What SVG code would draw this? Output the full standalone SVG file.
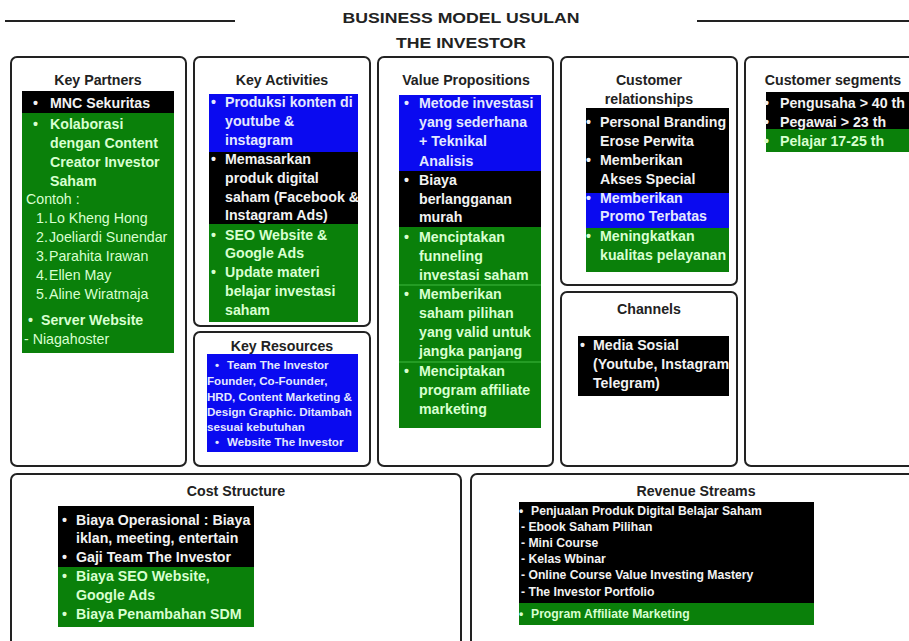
<svg xmlns="http://www.w3.org/2000/svg" width="909" height="641" viewBox="0 0 909 641">
<style>
.frame{fill:#fff;stroke:#222;stroke-width:2}
.k{fill:#000}.gr{fill:#0a800a}.bl{fill:#0a0af0}
text{font-family:"Liberation Sans",Arial,sans-serif;font-weight:bold;font-size:14.2px}
.h{fill:#222;text-anchor:middle}
.w{fill:#f2f2f2}.lg{fill:#d8ffd0}.lb{fill:#e4e8ff}
.n{font-weight:normal}
.s{font-size:11.6px}.m{font-size:12.2px}
</style>
<rect width="909" height="641" fill="#fff"/>
<g id="title">
<line x1="5" y1="21" x2="235" y2="21" stroke="#222" stroke-width="2"/>
<line x1="697" y1="21" x2="909" y2="21" stroke="#222" stroke-width="2"/>
<text class="h" x="461" y="23" font-size="17.5px" textLength="237" lengthAdjust="spacingAndGlyphs">BUSINESS MODEL USULAN</text>
<text class="h" x="461" y="48" font-size="17.5px" textLength="130" lengthAdjust="spacingAndGlyphs">THE INVESTOR</text>
</g>

<g id="key-partners">
<rect class="frame" x="11" y="57" width="175" height="409" rx="6"/>
<text class="h" x="98" y="85">Key Partners</text>
<rect class="k" x="22" y="91" width="152" height="22"/>
<rect class="gr" x="22" y="113" width="152" height="240"/>
<text class="w" x="33" y="108">•</text><text class="w" x="50" y="108">MNC Sekuritas</text>
<text class="lg" x="33" y="129">•</text><text class="lg" x="50" y="129">Kolaborasi</text>
<text class="lg" x="50" y="148">dengan Content</text>
<text class="lg" x="50" y="167">Creator Investor</text>
<text class="lg" x="50" y="186">Saham</text>
<text class="lg n" x="26" y="204">Contoh :</text>
<text class="lg n" x="36" y="223">1.</text><text class="lg n" x="49" y="223">Lo Kheng Hong</text>
<text class="lg n" x="36" y="242">2.</text><text class="lg n" x="49" y="242">Joeliardi Sunendar</text>
<text class="lg n" x="36" y="261">3.</text><text class="lg n" x="49" y="261">Parahita Irawan</text>
<text class="lg n" x="36" y="280">4.</text><text class="lg n" x="49" y="280">Ellen May</text>
<text class="lg n" x="36" y="299">5.</text><text class="lg n" x="49" y="299">Aline Wiratmaja</text>
<text class="lg" x="28" y="325">•</text><text class="lg" x="41" y="325">Server Website</text>
<text class="lg n" x="24" y="344">- Niagahoster</text>
</g>

<g id="key-activities">
<rect class="frame" x="194" y="57" width="176" height="269" rx="6"/>
<text class="h" x="282" y="85">Key Activities</text>
<rect class="bl" x="209" y="94" width="149" height="58"/>
<rect class="k" x="209" y="152" width="149" height="72"/>
<rect class="gr" x="209" y="224" width="149" height="98"/>
<text class="lb" x="211" y="107">•</text><text class="lb" x="225" y="107">Produksi konten di</text>
<text class="lb" x="225" y="126">youtube &amp;</text>
<text class="lb" x="225" y="145">instagram</text>
<text class="w" x="211" y="164">•</text><text class="w" x="225" y="164">Memasarkan</text>
<text class="w" x="225" y="183">produk digital</text>
<text class="w" x="225" y="202">saham (Facebook &amp;</text>
<text class="w" x="225" y="220">Instagram Ads)</text>
<text class="lg" x="211" y="240">•</text><text class="lg" x="225" y="240">SEO Website &amp;</text>
<text class="lg" x="225" y="258">Google Ads</text>
<text class="lg" x="211" y="277">•</text><text class="lg" x="225" y="277">Update materi</text>
<text class="lg" x="225" y="296">belajar investasi</text>
<text class="lg" x="225" y="315">saham</text>
</g>

<g id="key-resources">
<rect class="frame" x="194" y="332" width="176" height="134" rx="6"/>
<text class="h" x="282" y="351">Key Resources</text>
<rect class="bl" x="207" y="354" width="151" height="98"/>
<text class="lb s" x="215" y="369">•</text><text class="lb s" x="227" y="369">Team The Investor</text>
<text class="lb s" x="207" y="385">Founder, Co-Founder,</text>
<text class="lb s" x="207" y="401">HRD, Content Marketing &amp;</text>
<text class="lb s" x="207" y="416">Design Graphic. Ditambah</text>
<text class="lb s" x="207" y="431">sesuai kebutuhan</text>
<text class="lb s" x="215" y="446">•</text><text class="lb s" x="227" y="446">Website The Investor</text>
</g>

<g id="value-propositions">
<rect class="frame" x="378" y="57" width="175" height="409" rx="6"/>
<text class="h" x="466" y="85">Value Propositions</text>
<rect class="bl" x="399" y="95" width="142" height="76"/>
<rect class="k" x="399" y="171" width="142" height="56"/>
<rect class="gr" x="399" y="227" width="142" height="201"/>
<line x1="399" y1="285" x2="541" y2="285" stroke="#3fb83f" stroke-width="1"/>
<line x1="399" y1="362" x2="541" y2="362" stroke="#3fb83f" stroke-width="1"/>
<text class="lb" x="404" y="108">•</text><text class="lb" x="419" y="108">Metode investasi</text>
<text class="lb" x="419" y="127">yang sederhana</text>
<text class="lb" x="419" y="146">+ Teknikal</text>
<text class="lb" x="419" y="166">Analisis</text>
<text class="w" x="404" y="185">•</text><text class="w" x="419" y="185">Biaya</text>
<text class="w" x="419" y="204">berlangganan</text>
<text class="w" x="419" y="222">murah</text>
<text class="lg" x="404" y="242">•</text><text class="lg" x="419" y="242">Menciptakan</text>
<text class="lg" x="419" y="261">funneling</text>
<text class="lg" x="419" y="280">investasi saham</text>
<text class="lg" x="404" y="299">•</text><text class="lg" x="419" y="299">Memberikan</text>
<text class="lg" x="419" y="318">saham pilihan</text>
<text class="lg" x="419" y="337">yang valid untuk</text>
<text class="lg" x="419" y="356">jangka panjang</text>
<text class="lg" x="404" y="376">•</text><text class="lg" x="419" y="376">Menciptakan</text>
<text class="lg" x="419" y="395">program affiliate</text>
<text class="lg" x="419" y="414">marketing</text>
</g>

<g id="customer-relationships">
<rect class="frame" x="561" y="57" width="176" height="228" rx="6"/>
<text class="h" x="649" y="85">Customer</text>
<text class="h" x="649" y="104">relationships</text>
<rect class="k" x="586" y="108" width="143" height="85"/>
<rect class="bl" x="586" y="193" width="143" height="35"/>
<rect class="gr" x="586" y="228" width="143" height="44"/>
<text class="w" x="586" y="127">•</text><text class="w" x="600" y="127">Personal Branding</text>
<text class="w" x="600" y="146">Erose Perwita</text>
<text class="w" x="586" y="165">•</text><text class="w" x="600" y="165">Memberikan</text>
<text class="w" x="600" y="184">Akses Special</text>
<text class="lb" x="586" y="203">•</text><text class="lb" x="600" y="203">Memberikan</text>
<text class="lb" x="600" y="221">Promo Terbatas</text>
<text class="lg" x="586" y="241">•</text><text class="lg" x="600" y="241">Meningkatkan</text>
<text class="lg" x="600" y="260">kualitas pelayanan</text>
</g>

<g id="channels">
<rect class="frame" x="561" y="292" width="176" height="174" rx="6"/>
<text class="h" x="649" y="314">Channels</text>
<rect class="k" x="578" y="336" width="151" height="60"/>
<text class="w" x="580" y="350">•</text><text class="w" x="593" y="350">Media Sosial</text>
<text class="w" x="593" y="369">(Youtube, Instagram</text>
<text class="w" x="593" y="388">Telegram)</text>
</g>

<g id="customer-segments">
<rect class="frame" x="745" y="57" width="175" height="409" rx="6"/>
<text class="h" x="833" y="85">Customer segments</text>
<rect class="k" x="766" y="92" width="143" height="37"/>
<rect class="gr" x="766" y="129" width="143" height="23"/>
<text class="w" x="764" y="108">•</text><text class="w" x="780" y="108">Pengusaha &gt; 40 th</text>
<text class="w" x="764" y="127">•</text><text class="w" x="780" y="127">Pegawai &gt; 23 th</text>
<text class="lg" x="764" y="146">•</text><text class="lg" x="780" y="146">Pelajar 17-25 th</text>
</g>

<g id="cost-structure">
<rect class="frame" x="11" y="474" width="450" height="180" rx="6"/>
<text class="h" x="236" y="496">Cost Structure</text>
<rect class="k" x="58" y="506" width="196" height="61"/>
<rect class="gr" x="58" y="567" width="196" height="60"/>
<text class="w" x="62" y="525">•</text><text class="w" x="76" y="525">Biaya Operasional : Biaya</text>
<text class="w" x="76" y="543">iklan, meeting, entertain</text>
<text class="w" x="62" y="562">•</text><text class="w" x="76" y="562">Gaji Team The Investor</text>
<text class="lg" x="62" y="581">•</text><text class="lg" x="76" y="581">Biaya SEO Website,</text>
<text class="lg" x="76" y="600">Google Ads</text>
<text class="lg" x="62" y="619">•</text><text class="lg" x="76" y="619">Biaya Penambahan SDM</text>
</g>

<g id="revenue-streams">
<rect class="frame" x="471" y="474" width="450" height="180" rx="6"/>
<text class="h" x="696" y="496">Revenue Streams</text>
<rect class="k" x="519" y="502" width="295" height="101"/>
<rect class="gr" x="519" y="603" width="295" height="22"/>
<text class="w m" x="519" y="515">•</text><text class="w m" x="531" y="515">Penjualan Produk Digital Belajar Saham</text>
<text class="w m" x="521" y="531">- Ebook Saham Pilihan</text>
<text class="w m" x="521" y="547">- Mini Course</text>
<text class="w m" x="521" y="563">- Kelas Wbinar</text>
<text class="w m" x="521" y="579">- Online Course Value Investing Mastery</text>
<text class="w m" x="521" y="596">- The Investor Portfolio</text>
<text class="lg m" x="519" y="618">•</text><text class="lg m" x="531" y="618">Program Affiliate Marketing</text>
</g>
</svg>
